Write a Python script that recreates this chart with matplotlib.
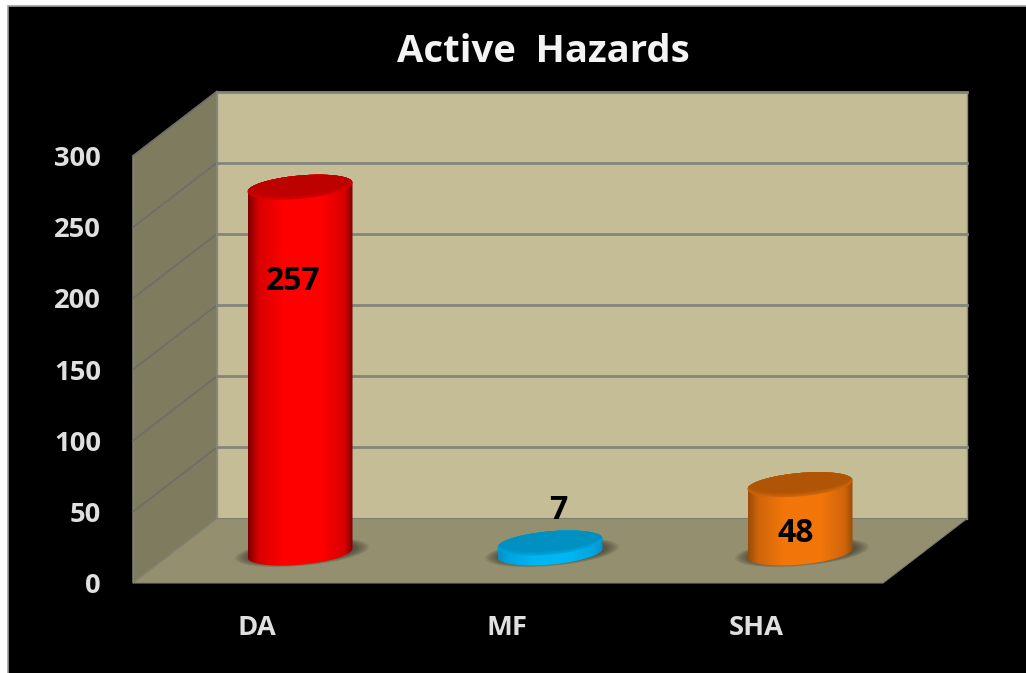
import numpy as np
import matplotlib
matplotlib.use("Agg")
import matplotlib.pyplot as plt
from matplotlib.colors import LinearSegmentedColormap, to_rgb
from matplotlib.patches import Polygon, Rectangle
from matplotlib.transforms import ScaledTranslation

# Data
categories = ["DA", "MF", "SHA"]
values = [257, 7, 48]
value_ticks = [0, 50, 100, 150, 200, 250, 300]
title = "Active  Hazards"

# Style
W, H = 1026, 673
L, R, T, B = 133, 883, 156, 583          # front plane, in pixels
PXX = (R - L) / len(categories)
PXY = (B - T) / value_ticks[-1]
DX, DY = 84 / PXX, 64.5 / PXY            # 3D depth in data units
FLOOR_X, FLOOR_Y = DX / 2, 30 / PXY      # where the bars stand on the floor
A, BB, SHEAR = 52.5 / PXX, 11.7 / PXY, 4.5 / PXY   # ellipse of the cylinder

bar_styles = [
    dict(edge="#7c0000", near="#d80000", mid="#ff0000", cap="#bd0000"),
    dict(edge="#0a8fc4", near="#00a4dc", mid="#00b6f2", cap="#0090c2"),
    dict(edge="#9a4d08", near="#d0650a", mid="#f2760a", cap="#b05506"),
]
label_pos = [(-7, 212), (8, 51), (-4, 35)]  # x offset in px, y in value units
label_font = ["Open Sans", "DejaVu Sans"]

fig = plt.figure(figsize=(W / 100, H / 100), dpi=100, facecolor="white")
fig.add_artist(Rectangle((8 / W, -0.01), 1, 1.01 - 6 / H, transform=fig.transFigure,
                         facecolor="black", edgecolor="#a0a0a0", linewidth=1.2, zorder=-5))

ax = fig.add_axes([L / W, 1 - B / H, (R - L) / W, (B - T) / H])
ax.patch.set_visible(False)
for s in ax.spines.values():
    s.set_visible(False)
n = len(categories)
top = value_ticks[-1]
ax.set_xlim(0, n)
ax.set_ylim(0, top)
ax.autoscale(False)

# Walls and floor
ax.add_patch(Polygon([(DX, DY), (n + DX, DY), (n + DX, top + DY), (DX, top + DY)],
                     closed=True, fc="#c4bd96", ec="#8c8c80", lw=1, clip_on=False, zorder=1))
ax.add_patch(Polygon([(0, 0), (DX, DY), (DX, top + DY), (0, top)],
                     closed=True, fc="#7f7b5f", ec="#8a8a80", lw=1, clip_on=False, zorder=1))
ax.add_patch(Polygon([(0, 0), (n, 0), (n + DX, DY), (DX, DY)],
                     closed=True, fc="#948f6f", ec="#7f7f70", lw=0.8, clip_on=False, zorder=1.5))

# Gridlines
for v in value_ticks[1:]:
    ax.plot([0, DX], [v, v + DY], color="#6e6e66", lw=1.3, clip_on=False, zorder=1.2)
    ax.plot([DX, n + DX], [v + DY, v + DY], color="#83847c", lw=2, clip_on=False, zorder=1.2)


def ellipse(cx, cy, t, scale=1.0, a=A, b=BB):
    return np.column_stack([cx + scale * a * np.cos(t),
                            cy + scale * (SHEAR * np.cos(t) + b * np.sin(t))])


t_full = np.linspace(0, 2 * np.pi, 120)
for i, (cat, v, st) in enumerate(zip(categories, values, bar_styles)):
    cx = i + 0.5 + FLOOR_X
    cy = FLOOR_Y
    # Soft shadow on the floor
    for k in range(10):
        sc = 1.28 - k * 0.028
        ax.add_patch(Polygon(ellipse(cx + 2 / PXX, cy + 0.5 / PXY, t_full, scale=sc, b=BB * 0.9),
                             closed=True, fc="#2c2a20", ec="none", alpha=0.07,
                             clip_on=False, zorder=2))
    # Cylinder body with horizontal shading
    base = ellipse(cx, cy, np.linspace(np.pi, 2 * np.pi, 60))
    cap = ellipse(cx, cy + v, np.linspace(0, np.pi, 60))
    body = Polygon(np.vstack([base, cap]), closed=True, fc="none", ec="none",
                   transform=ax.transData, clip_on=False)
    ax.add_patch(body)
    cmap = LinearSegmentedColormap.from_list(
        cat, [(0, st["edge"]), (0.1, st["near"]), (0.34, st["mid"]), (0.7, st["mid"]),
              (0.92, st["near"]), (1, st["edge"])])
    extent = (cx - A, cx + A, cy - BB - abs(SHEAR), cy + v + BB + abs(SHEAR))
    im = ax.imshow(np.linspace(0, 1, 256)[None, :], cmap=cmap, extent=extent, aspect="auto",
                   interpolation="bilinear", zorder=3)
    im.set_clip_path(body)
    # Top cap: bright lower rim fading into the darker face
    rim = Polygon(ellipse(cx, cy + v, t_full), closed=True, fc=st["near"], ec="none",
                  clip_on=False, zorder=3.1)
    ax.add_patch(rim)
    c0, c1 = np.array(to_rgb(st["near"])), np.array(to_rgb(st["cap"]))
    for k in range(1, 5):
        p = Polygon(ellipse(cx, cy + v + k * 1.0 / PXY, t_full), closed=True,
                    fc=tuple(c0 + (c1 - c0) * k / 4), ec="none", zorder=3.1 + k * 0.01)
        ax.add_patch(p)
        p.set_clip_path(rim)
    # Value label
    ox, ly = label_pos[i]
    ax.text(i + 0.5 + FLOOR_X + ox / PXX, ly, str(v), ha="center", va="center",
            color="black", fontsize=23, fontweight="bold", family=label_font,
            zorder=5, clip_on=False)

ax.set_xlim(0, n)
ax.set_ylim(0, top)

# Axes labels
ax.set_yticks(value_ticks)
ax.set_yticklabels([str(v) for v in value_ticks])
ax.set_xticks([i + 0.5 for i in range(n)])
ax.set_xticklabels(categories)
ax.tick_params(axis="y", length=0, pad=23, colors="#e0e0e0", labelsize=19.7)
ax.tick_params(axis="x", length=0, pad=23, colors="#e0e0e0", labelsize=19.7)
nudge = ScaledTranslation(-1.5 / 100, 0, fig.dpi_scale_trans)
for lab in ax.get_xticklabels():
    lab.set_transform(lab.get_transform() + nudge)
for lab in ax.get_xticklabels() + ax.get_yticklabels():
    lab.set_fontweight("bold")
    lab.set_family(label_font)

fig.text(543 / W, 1 - 52 / H, title, ha="center", va="center", color="#f4f4f4",
         fontsize=27.5, fontweight="bold", family=label_font)

fig.savefig("out.png", dpi=100, facecolor=fig.get_facecolor())
